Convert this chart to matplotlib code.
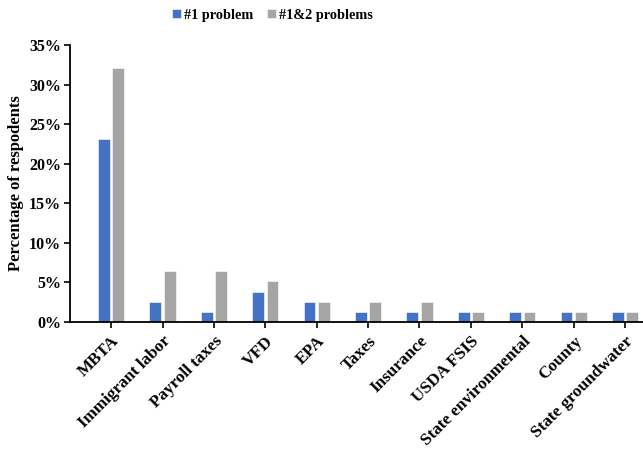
import matplotlib
matplotlib.use("Agg")
import matplotlib.pyplot as plt
import numpy as np
from matplotlib.ticker import FuncFormatter

categories = ["MBTA", "Immigrant labor", "Payroll taxes", "VFD", "EPA", "Taxes",
              "Insurance", "USDA FSIS", "State environmental", "County",
              "State groundwater"]
first_problem = [23.08, 2.56, 1.28, 3.85, 2.56, 1.28, 1.28, 1.28, 1.28, 1.28, 1.28]
first_second = [32.05, 6.41, 6.41, 5.13, 2.56, 2.56, 2.56, 1.28, 1.28, 1.28, 1.28]
series_names = ["#1 problem", "#1&2 problems"]

plt.rcParams["font.family"] = ["Liberation Serif", "DejaVu Serif"]
plt.rcParams["font.weight"] = "bold"

fig = plt.figure(figsize=(6.43, 4.51), dpi=100)
ax = fig.add_axes([0.109, 0.286, 0.891, 0.614])

x = np.arange(len(categories))
w = 0.23
ax.bar(x - 0.14, first_problem, width=w, color="#4472C4", label=series_names[0],
       edgecolor="white", linewidth=0.4)
ax.bar(x + 0.14, first_second, width=w, color="#A5A5A5", label=series_names[1],
       edgecolor="white", linewidth=0.4)

ax.set_xlim(-0.8, 10.35)
ax.set_ylim(0, 35)
ax.set_yticks(np.arange(0, 36, 5))
ax.yaxis.set_major_formatter(FuncFormatter(lambda v, p: f"{int(v)}%"))
ax.set_xticks(x)
ax.set_xticklabels(categories, rotation=45, ha="right", rotation_mode="anchor",
                   fontsize=12.3, fontweight="bold")
for lab in ax.get_yticklabels():
    lab.set_fontsize(11.5)
    lab.set_fontweight("bold")

for s in ["top", "right"]:
    ax.spines[s].set_visible(False)
for s in ["left", "bottom"]:
    ax.spines[s].set_linewidth(1.3)
    ax.spines[s].set_color("black")
ax.tick_params(axis="both", direction="out", length=4, width=1.2, colors="black")
ax.tick_params(axis="y", pad=2.5)
ax.tick_params(axis="x", pad=4)

ax.set_ylabel("Percentage of respodents", fontsize=12, fontweight="bold")
ax.yaxis.set_label_coords(-0.080, 0.5)

fig.legend(loc="center", bbox_to_anchor=(0.424, 0.966), ncol=2, frameon=False,
           fontsize=10.3, handlelength=0.6, handleheight=0.6, handletextpad=0.2,
           columnspacing=1.0)

fig.savefig("out.png", dpi=100)
